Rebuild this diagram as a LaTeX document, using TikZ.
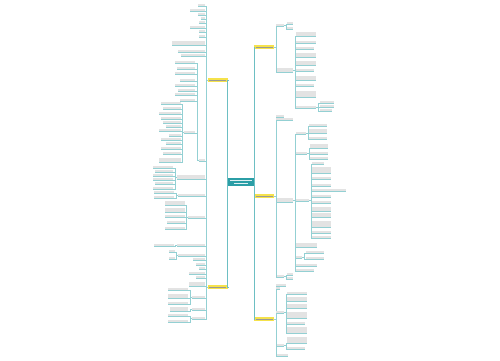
\documentclass[tikz,border=0pt]{standalone}
\usepackage{tikz}
\usetikzlibrary{arrows,shapes,calc}
\definecolor{trunkc}{HTML}{6DBFC3}
\definecolor{twigc}{HTML}{93D0D3}
\definecolor{rootc}{HTML}{2B9EA6}
\definecolor{branchc}{HTML}{F5E24B}
\tikzstyle{root}=[rectangle, fill=rootc, minimum width=26pt, minimum height=8pt, inner sep=0pt,
  path picture={\draw[white!85!rootc, line width=0.7pt] ([xshift=2pt,yshift=1.5pt]path picture bounding box.west) -- ([xshift=-2pt,yshift=1.5pt]path picture bounding box.east);
                \draw[white!85!rootc, line width=0.7pt] ([xshift=6pt,yshift=-1.5pt]path picture bounding box.west) -- ([xshift=-6pt,yshift=-1.5pt]path picture bounding box.east);}]
\tikzstyle{branch}=[rectangle, fill=branchc, minimum width=20pt, minimum height=3.5pt, inner sep=0pt,
  path picture={\draw[black!40, line width=0.6pt] ([xshift=1.5pt]path picture bounding box.west) -- ([xshift=-1.5pt]path picture bounding box.east);}]
\tikzstyle{leaf}=[rectangle, fill=black!11, minimum height=1.5pt, inner sep=0pt]
\tikzstyle{edge}=[draw=trunkc, line width=0.9pt]
\tikzstyle{twig}=[draw=twigc, line width=0.45pt]

\begin{document}
\begin{tikzpicture}[x=1pt, y=-1pt]
        \useasboundingbox (0,0) rectangle (500,360);
        \node[root] (root) at (241,182) {};
        \node[branch, anchor=east] (L1) at (228,80) {};
        \node[branch, anchor=east] (L2) at (228,287) {};
        \node[branch, anchor=west] (R1) at (254,47) {};
        \node[branch, anchor=west] (R2) at (254,196) {};
        \node[branch, anchor=west] (R3) at (254,319) {};
        \draw[edge] (root.east) |- (R1.west);
        \draw[edge] (root.east) |- (R2.west);
        \draw[edge] (root.east) |- (R3.west);
        \draw[edge] (root.west) |- (L1.east);
        \draw[edge] (root.west) |- (L2.east);

        % left branch 1
        \foreach \y/\w/\h [count=\i] in {5/7/1.5, 10/15/1.5, 14/7/1.5, 18/4/1.5, 22/6/1.5, 27/15/1.5, 31/6/1.5, 36/6/1.5, 43/33/4, 51/27/1.5, 55/24/1.5}
          {\node[leaf, minimum width=\w, minimum height=\h, anchor=east] (l1-\i) at (205,\y) {};
           \draw[twig] (L1.west) -- ++(-1.5,0) |- (l1-\i.south east) -- (l1-\i.south west);}
        \node[leaf, minimum width=6, anchor=east] (S1) at (205,160) {};
        \node[leaf, minimum width=28, minimum height=4, anchor=east] (T1) at (205,177) {};
        \node[leaf, minimum width=27, anchor=east] (T2) at (205,195) {};
        \node[leaf, minimum width=17, anchor=east] (T3) at (205,217) {};
        \node[leaf, minimum width=28, anchor=east] (T4) at (205,245) {};
        \node[leaf, minimum width=27, anchor=east] (T5) at (205,255) {};
        \foreach \n in {S1,T1,T2,T3,T4,T5}
          \draw[twig] (L1.west) -- ++(-1.5,0) |- (\n.south east) -- (\n.south west);
        \foreach \y/\w/\h [count=\i] in {62/20/1.5, 68/18/1.5, 73/20/1.5, 80/15/1.5, 85/20/1.5, 90/17/1.5, 94/20/1.5, 100/15/1.5}
          {\node[leaf, minimum width=\w, minimum height=\h, anchor=east] (s1-\i) at (195,\y) {};
           \draw[twig] (S1.west) -- ++(-1.5,0) |- (s1-\i.south east) -- (s1-\i.south west);}
        \node[leaf, minimum width=11, anchor=east] (S2) at (195,132) {};
        \draw[twig] (S1.west) -- ++(-1.5,0) |- (S2.south east) -- (S2.south west);
        \foreach \y/\w/\h [count=\i] in {103/20/1.5, 108/18/1.5, 113/22/3, 118/20/1.5, 122/18/1.5, 126/15/1.5, 130/22/1.5, 135/12/1.5, 139/20/1.5, 143/15/1.5, 148/20/1.5, 153/18/1.5, 160/22/4}
          {\node[leaf, minimum width=\w, minimum height=\h, anchor=east] (s2-\i) at (181,\y) {};
           \draw[twig] (S2.west) -- ++(-1.5,0) |- (s2-\i.south east) -- (s2-\i.south west);}
        \foreach \y/\w/\h [count=\i] in {167/20/1.5, 171/18/1.5, 175/20/1.5, 179/20/1.5, 183/18/1.5, 188/20/1.5}
          {\node[leaf, minimum width=\w, minimum height=\h, anchor=east] (t1-\i) at (173,\y) {};
           \draw[twig] (T1.west) -- ++(-1.5,0) |- (t1-\i.south east) -- (t1-\i.south west);}
        \foreach \y/\w/\h [count=\i] in {192/20/1.5, 197/20/1.5}
          {\node[leaf, minimum width=\w, minimum height=\h, anchor=east] (t2-\i) at (174,\y) {};
           \draw[twig] (T2.west) -- ++(-1.5,0) |- (t2-\i.south east) -- (t2-\i.south west);}
        \foreach \y/\w/\h [count=\i] in {203/20/4, 210/20/4, 216/20/3, 222/18/1.5, 228/20/3}
          {\node[leaf, minimum width=\w, minimum height=\h, anchor=east] (t3-\i) at (185,\y) {};
           \draw[twig] (T3.west) -- ++(-1.5,0) |- (t3-\i.south east) -- (t3-\i.south west);}
        \foreach \y/\w/\h [count=\i] in {245/20/3}
          {\node[leaf, minimum width=\w, minimum height=\h, anchor=east] (t4-\i) at (174,\y) {};
           \draw[twig] (T4.west) -- ++(-1.5,0) |- (t4-\i.south east) -- (t4-\i.south west);}
        \foreach \y/\w/\h [count=\i] in {251/6/1.5, 258/6/1.5}
          {\node[leaf, minimum width=\w, minimum height=\h, anchor=east] (t5-\i) at (175,\y) {};
           \draw[twig] (T5.west) -- ++(-1.5,0) |- (t5-\i.south east) -- (t5-\i.south west);}

        % left branch 2
        \foreach \y/\w/\h [count=\i] in {255/7/1.5, 259/12/1.5, 264/9/1.5, 268/6/1.5, 273/16/1.5, 277/9/1.5, 284/16/4}
          {\node[leaf, minimum width=\w, minimum height=\h, anchor=east] (l2-\i) at (205,\y) {};
           \draw[twig] (L2.west) -- ++(-1.5,0) |- (l2-\i.south east) -- (l2-\i.south west);}
        \node[leaf, minimum width=13, anchor=east] (U1) at (205,297) {};
        \node[leaf, minimum width=13, anchor=east] (U2) at (205,309) {};
        \node[leaf, minimum width=13, anchor=east] (U3) at (205,318) {};
        \foreach \n in {U1,U2,U3}
          \draw[twig] (L2.west) -- ++(-1.5,0) |- (\n.south east) -- (\n.south west);
        \foreach \y/\w/\h [count=\i] in {289/20/1.5, 296/20/4, 303/20/3}
          {\node[leaf, minimum width=\w, minimum height=\h, anchor=east] (u1-\i) at (188,\y) {};
           \draw[twig] (U1.west) -- ++(-1.5,0) |- (u1-\i.south east) -- (u1-\i.south west);}
        \node[leaf, minimum width=18, minimum height=4, anchor=east] (u2-1) at (188,309) {};
        \draw[twig] (U2.west) -- ++(-1.5,0) |- (u2-1.south east) -- (u2-1.south west);
        \foreach \y/\w/\h [count=\i] in {315/20/1.5, 321/20/3}
          {\node[leaf, minimum width=\w, minimum height=\h, anchor=east] (u3-\i) at (188,\y) {};
           \draw[twig] (U3.west) -- ++(-1.5,0) |- (u3-\i.south east) -- (u3-\i.south west);}

        % right branch 1
        \node[leaf, minimum width=8, anchor=west] (A) at (276,25) {};
        \node[leaf, minimum width=17, minimum height=4, anchor=west] (B) at (276,70) {};
        \foreach \n in {A,B}
          \draw[twig] (R1.east) -- ++(1.5,0) |- (\n.south west) -- (\n.south east);
        \foreach \y/\w/\h [count=\i] in {23/6/1.5, 28/6/1.5}
          {\node[leaf, minimum width=\w, minimum height=\h, anchor=west] (a-\i) at (287,\y) {};
           \draw[twig] (A.east) -- ++(1.5,0) |- (a-\i.south west) -- (a-\i.south east);}
        \foreach \y/\w/\h [count=\i] in {34/20/4, 42/20/1.5, 48/18/1.5, 55/20/4, 63/20/4, 70/18/1.5, 78/20/4, 85/18/1.5, 94/20/6, 107/20/1.5}
          {\node[leaf, minimum width=\w, minimum height=\h, anchor=west] (b-\i) at (296,\y) {};
           \draw[twig] (B.east) -- ++(1.5,0) |- (b-\i.south west) -- (b-\i.south east);}
        \foreach \y/\w/\h [count=\i] in {102/14/1.5, 106/14/1.5, 110/12/1.5}
          {\node[leaf, minimum width=\w, minimum height=\h, anchor=west] (bb-\i) at (320,\y) {};
           \draw[twig] (b-10.east) -- ++(1.5,0) |- (bb-\i.south west) -- (bb-\i.south east);}

        % right branch 2
        \foreach \y/\w/\h [count=\i] in {116/8/1.5, 119/17/1.5}
          {\node[leaf, minimum width=\w, minimum height=\h, anchor=west] (r2-\i) at (276,\y) {};
           \draw[twig] (R2.east) -- ++(1.5,0) |- (r2-\i.south west) -- (r2-\i.south east);}
        \node[leaf, minimum width=17, minimum height=4, anchor=west] (C) at (276,200) {};
        \node[leaf, minimum width=8, anchor=west] (D) at (276,276) {};
        \foreach \n in {C,D}
          \draw[twig] (R2.east) -- ++(1.5,0) |- (\n.south west) -- (\n.south east);
        \node[leaf, minimum width=10, anchor=west] (C1) at (296,133) {};
        \node[leaf, minimum width=11, anchor=west] (C2) at (296,153) {};
        \node[leaf, minimum width=13, anchor=west] (C3) at (296,200) {};
        \node[leaf, minimum width=21, minimum height=4, anchor=west] (C5) at (296,245) {};
        \node[leaf, minimum width=6, anchor=west] (C4) at (296,257) {};
        \node[leaf, minimum width=21, anchor=west] (C6) at (296,265) {};
        \node[leaf, minimum width=18, anchor=west] (C7) at (296,270) {};
        \foreach \n in {C1,C2,C3,C5,C4,C6,C7}
          \draw[twig] (C.east) -- ++(1.5,0) |- (\n.south west) -- (\n.south east);
        \foreach \y/\w/\h [count=\i] in {125/18/1.5, 131/18/4, 138/18/1.5}
          {\node[leaf, minimum width=\w, minimum height=\h, anchor=west] (c1-\i) at (309,\y) {};
           \draw[twig] (C1.east) -- ++(1.5,0) |- (c1-\i.south west) -- (c1-\i.south east);}
        \foreach \y/\w/\h [count=\i] in {146/18/4, 153/18/1.5, 158/18/1.5}
          {\node[leaf, minimum width=\w, minimum height=\h, anchor=west] (c2-\i) at (310,\y) {};
           \draw[twig] (C2.east) -- ++(1.5,0) |- (c2-\i.south west) -- (c2-\i.south east);}
        \foreach \y/\w/\h [count=\i] in {163/12/1.5, 170/19/6, 178/19/1.5, 185/19/1.5, 190/34/1.5, 196/19/1.5, 202/19/1.5, 209/19/4, 215/19/4, 224/19/6, 232/19/1.5, 237/19/1.5}
          {\node[leaf, minimum width=\w, minimum height=\h, anchor=west] (c3-\i) at (312,\y) {};
           \draw[twig] (C3.east) -- ++(1.5,0) |- (c3-\i.south west) -- (c3-\i.south east);}
        \foreach \y/\w/\h [count=\i] in {252/18/1.5, 258/18/1.5}
          {\node[leaf, minimum width=\w, minimum height=\h, anchor=west] (c4-\i) at (306,\y) {};
           \draw[twig] (C4.east) -- ++(1.5,0) |- (c4-\i.south west) -- (c4-\i.south east);}
        \foreach \y/\w/\h [count=\i] in {274/6/1.5, 278/6/1.5}
          {\node[leaf, minimum width=\w, minimum height=\h, anchor=west] (d-\i) at (287,\y) {};
           \draw[twig] (D.east) -- ++(1.5,0) |- (d-\i.south west) -- (d-\i.south east);}

        % right branch 3
        \foreach \y/\w/\h [count=\i] in {285/10/1.5, 288/4/1.5, 355/12/1.5}
          {\node[leaf, minimum width=\w, minimum height=\h, anchor=west] (r3-\i) at (276,\y) {};
           \draw[twig] (R3.east) -- ++(1.5,0) |- (r3-\i.south west) -- (r3-\i.south east);}
        \node[leaf, minimum width=8, anchor=west] (E) at (276,312) {};
        \node[leaf, minimum width=8, anchor=west] (F) at (276,345) {};
        \foreach \n in {E,F}
          \draw[twig] (R3.east) -- ++(1.5,0) |- (\n.south west) -- (\n.south east);
        \foreach \y/\w/\h [count=\i] in {293/20/1.5, 299/20/4, 306/20/4, 315/20/6, 323/18/1.5, 330/20/6}
          {\node[leaf, minimum width=\w, minimum height=\h, anchor=west] (e-\i) at (287,\y) {};
           \draw[twig] (E.east) -- ++(1.5,0) |- (e-\i.south west) -- (e-\i.south east);}
        \foreach \y/\w/\h [count=\i] in {340/20/6, 348/18/3}
          {\node[leaf, minimum width=\w, minimum height=\h, anchor=west] (f-\i) at (287,\y) {};
           \draw[twig] (F.east) -- ++(1.5,0) |- (f-\i.south west) -- (f-\i.south east);}
     \end{tikzpicture}
\end{document}
